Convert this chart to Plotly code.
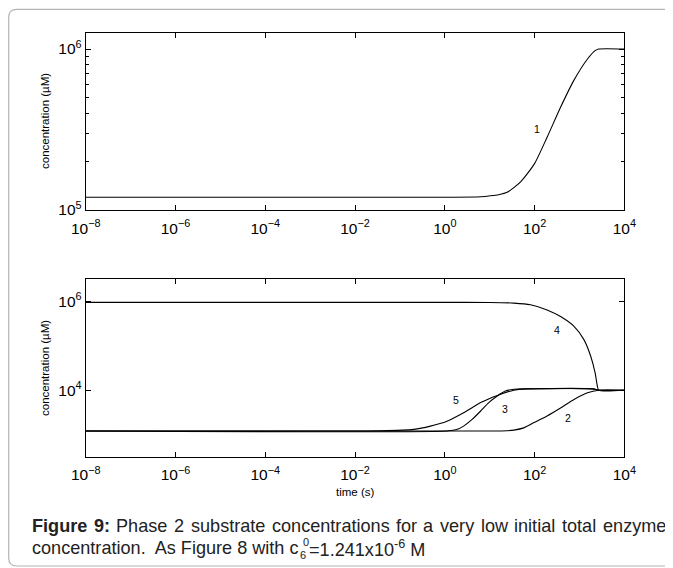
import math
import plotly.graph_objects as go

# ---------------- data ----------------
# top panel: curve 1
t1 = [1e-8, 1, 6.31, 10.5, 15.8, 24.5, 49, 100, 190.5, 380, 741, 1514, 2239, 2692, 1e4]
c1 = [1.20e5, 1.20e5, 1.208e5, 1.225e5, 1.245e5, 1.288e5, 1.496e5, 1.941e5, 2.831e5,
      4.345e5, 6.339e5, 8.670e5, 9.77e5, 1.0e6, 1.0e6]

# bottom panel
t2 = [1e-8, 15.8, 24.5, 34.7, 57.5, 97.7, 190.5, 380, 758.6, 1514, 2692, 1e4]
c2 = [1.20e3, 1.202e3, 1.216e3, 1.259e3, 1.413e3, 1.862e3, 2.63e3, 3.98e3, 6.17e3,
      8.71e3, 1.0e4, 1.0e4]

t3 = [1e-8, 1.12, 1.905, 2.63, 4.07, 6.31, 9.55, 14.8, 22.4, 34.7, 63.1, 1995, 2692, 1e4]
c3 = [1.20e3, 1.202e3, 1.309e3, 1.549e3, 2.188e3, 3.39e3, 5.25e3, 7.41e3, 9.55e3,
      1.047e4, 1.07e4, 1.07e4, 1.0e4, 1.0e4]

t4 = [1e-8, 1, 10, 34.7, 81.3, 190.5, 380, 758.6, 1259, 1778, 2239, 2512, 2692, 1e4]
c4 = [9.55e5, 9.55e5, 9.51e5, 9.20e5, 8.43e5, 6.46e5, 4.57e5, 2.75e5, 1.38e5,
      5.89e4, 2.45e4, 1.23e4, 1.0e4, 1.0e4]

t5 = [1e-8, 3.16e-3, 0.0367, 0.204, 0.479, 1.12, 2.63, 6.31, 14.8, 34.7, 63.1, 1995, 2692, 1e4]
c5 = [1.20e3, 1.202e3, 1.216e3, 1.309e3, 1.549e3, 1.995e3, 3.09e3, 5.25e3, 7.59e3,
      1.0e4, 1.07e4, 1.07e4, 1.0e4, 1.0e4]

# curve labels: (text, time, concentration, panel)
curve_labels = [("1", 115, 3.19e5, "top"),
                ("4", 324, 2.24e5, "bottom"),
                ("5", 1.82, 5.9e3, "bottom"),
                ("3", 22.4, 3.7e3, "bottom"),
                ("2", 562, 2.4e3, "bottom")]

x_tick_vals = [1e-8, 1e-6, 1e-4, 1e-2, 1, 1e2, 1e4]
x_tick_text = ["10<sup>−8</sup>", "10<sup>−6</sup>", "10<sup>−4</sup>", "10<sup>−2</sup>",
               "10<sup>0</sup>", "10<sup>2</sup>", "10<sup>4</sup>"]
top_y_vals = [1e5, 1e6]
top_y_text = ["10<sup>5</sup>", "10<sup>6</sup>"]
top_minor = [2e5, 3e5, 4e5, 5e5, 6e5, 7e5, 8e5, 9e5]
bot_y_vals = [1e4, 1e6]
bot_y_text = ["10<sup>4</sup>", "10<sup>6</sup>"]

ylabel = "concentration (µM)"
xlabel = "time (s)"
caption1_bold = ["Figure", "9:"]
caption1_words = ["Phase", "2", "substrate", "concentrations", "for", "a", "very", "low",
                  "initial", "total", "enzyme"]
caption2_a = "concentration.\u00a0 As Figure 8 with c"
caption2_sub = "6"
caption2_sup = "0"
caption2_b = "=1.241x10<sup>-6</sup> M"

# ---------------- figure ----------------
# the page body adds an 8px margin; the figure is sized/offset so that
# screen coordinates (X, Y) of the 673x568 window map onto it
OFF = 8
FW, FH = 673 - OFF, 568 - OFF
def px(X):
    return (X - OFF) / FW
def py(Y):
    return 1 - (Y - OFF) / FH

# Arial / Liberation Sans advance widths (1/1000 em), used to lay out the justified caption
ARIAL_W = {"c": 500, "o": 556, "n": 556, "e": 556, "t": 278, "r": 333, "a": 556, "i": 222,
           ".": 278, " ": 278, "\u00a0": 278, "A": 667, "s": 500, "F": 611, "g": 556,
           "u": 556, "8": 556, "w": 722, "h": 556, "P": 667, "2": 556, "b": 556, "f": 278,
           "v": 500, "y": 500, "l": 222, "z": 500, "m": 833}
ARIAL_BOLD_W = {"F": 611, "i": 278, "g": 611, "u": 611, "r": 389, "e": 556, "9": 556,
                ":": 333, " ": 278}
def text_width(s, size, bold=False):
    tbl = ARIAL_BOLD_W if bold else ARIAL_W
    return sum(tbl[ch] for ch in s) * size / 1000.0

FONT = "Liberation Sans, Arial, sans-serif"
fig = go.Figure()
line = dict(color="black", width=1.1, shape="spline", smoothing=0.6)
fig.add_trace(go.Scatter(x=t1, y=c1, mode="lines", line=line, xaxis="x", yaxis="y"))
for tt, cc in [(t2, c2), (t3, c3), (t4, c4), (t5, c5)]:
    fig.add_trace(go.Scatter(x=tt, y=cc, mode="lines", line=line, xaxis="x2", yaxis="y2"))

axis_common = dict(type="log", showline=True, linecolor="black", linewidth=1, mirror="ticks",
                   ticks="inside", ticklen=5, tickcolor="black", showgrid=False, zeroline=False,
                   automargin=False, tickmode="array",
                   tickfont=dict(family=FONT, size=15.5, color="black"))

xdom = [px(85.7), px(624.3)]
fig.update_layout(
    width=FW, height=FH, margin=dict(l=0, r=0, t=0, b=0),
    paper_bgcolor="white", plot_bgcolor="white", showlegend=False,
    xaxis=dict(domain=xdom, range=[-8, 4], tickvals=x_tick_vals, ticktext=x_tick_text,
               anchor="y", ticklabelstandoff=4, **axis_common),
    yaxis=dict(domain=[py(210), py(32.5)], range=[5, 6.1025], tickvals=top_y_vals,
               ticktext=top_y_text, anchor="x",
               minor=dict(tickvals=top_minor, ticks="inside", ticklen=3, tickcolor="black",
                          showgrid=False),
               **axis_common),
    xaxis2=dict(domain=xdom, range=[-8, 4], tickvals=x_tick_vals, ticktext=x_tick_text,
                anchor="y2", ticklabelstandoff=4, **axis_common),
    yaxis2=dict(domain=[py(456.7), py(279.3)], range=[2.5, 6.5], tickvals=bot_y_vals,
                ticktext=bot_y_text, anchor="x2", **axis_common),
)

annos = []
for txt, tx, cy, panel in curve_labels:
    annos.append(dict(text=txt, x=math.log10(tx), y=math.log10(cy),
                      xref="x" if panel == "top" else "x2", yref="y" if panel == "top" else "y2",
                      xanchor="center", yanchor="middle",
                      showarrow=False, font=dict(family=FONT, size=10.5, color="black")))
small = dict(family=FONT, size=11.5, color="black")
for yc in (121, 368):
    annos.append(dict(text=ylabel, x=px(45), y=py(yc), xref="paper", yref="paper", textangle=-90,
                      xanchor="center", yanchor="middle", showarrow=False, font=small))
annos.append(dict(text=xlabel, x=px(355), y=py(492), xref="paper", yref="paper",
                  xanchor="center", yanchor="middle", showarrow=False, font=small))

# ---- caption: line 1 justified between X0 and X1, line 2 left aligned ----
CAP = 18.1
CAP_COLOR = "#222222"
cap_font = dict(family=FONT, size=CAP, color=CAP_COLOR)
X0, X1, Y1, Y2 = 30, 664, 526, 548
words = [(w, True) for w in caption1_bold] + [(w, False) for w in caption1_words]
widths = [text_width(w, CAP, b) for w, b in words]
gap = (X1 - X0 - sum(widths)) / (len(words) - 1)
xc = X0
for (w, b), wd in zip(words, widths):
    annos.append(dict(text=f"<b>{w}</b>" if b else w, x=px(xc), y=py(Y1), xref="paper",
                      yref="paper", xanchor="left", yanchor="middle", showarrow=False,
                      font=cap_font))
    xc += wd + gap

annos.append(dict(text=caption2_a, x=px(X0), y=py(Y2), xref="paper", yref="paper",
                  xanchor="left", yanchor="middle", showarrow=False, font=cap_font))
xs = X0 + text_width(caption2_a, CAP) + 0.5
SUBF = 11
sub_font = dict(family=FONT, size=SUBF, color=CAP_COLOR)
annos.append(dict(text=caption2_sub, x=px(xs), y=py(Y2 + 6.5), xref="paper", yref="paper",
                  xanchor="left", yanchor="middle", showarrow=False, font=sub_font))
annos.append(dict(text=caption2_sup, x=px(xs + 2.5), y=py(Y2 - 6.5), xref="paper", yref="paper",
                  xanchor="left", yanchor="middle", showarrow=False, font=sub_font))
annos.append(dict(text=caption2_b, x=px(xs + 2.5 + 0.556 * SUBF + 0.5), y=py(Y2), xref="paper",
                  yref="paper", xanchor="left", yanchor="middle", showarrow=False, font=cap_font))
fig.update_layout(annotations=annos)

# outer rounded frame (its right side lies beyond the window)
r = 8
L, T, B = 8.7, 9.3, 566
path = (f"M {px(720)},{py(T)} L {px(L + r)},{py(T)} Q {px(L)},{py(T)} {px(L)},{py(T + r)} "
        f"L {px(L)},{py(B - r)} Q {px(L)},{py(B)} {px(L + r)},{py(B)} L {px(720)},{py(B)}")
fig.add_shape(type="path", path=path, xref="paper", yref="paper",
              line=dict(color="#b4b4b4", width=1.2), layer="below")

fig.write_html("out.html")
